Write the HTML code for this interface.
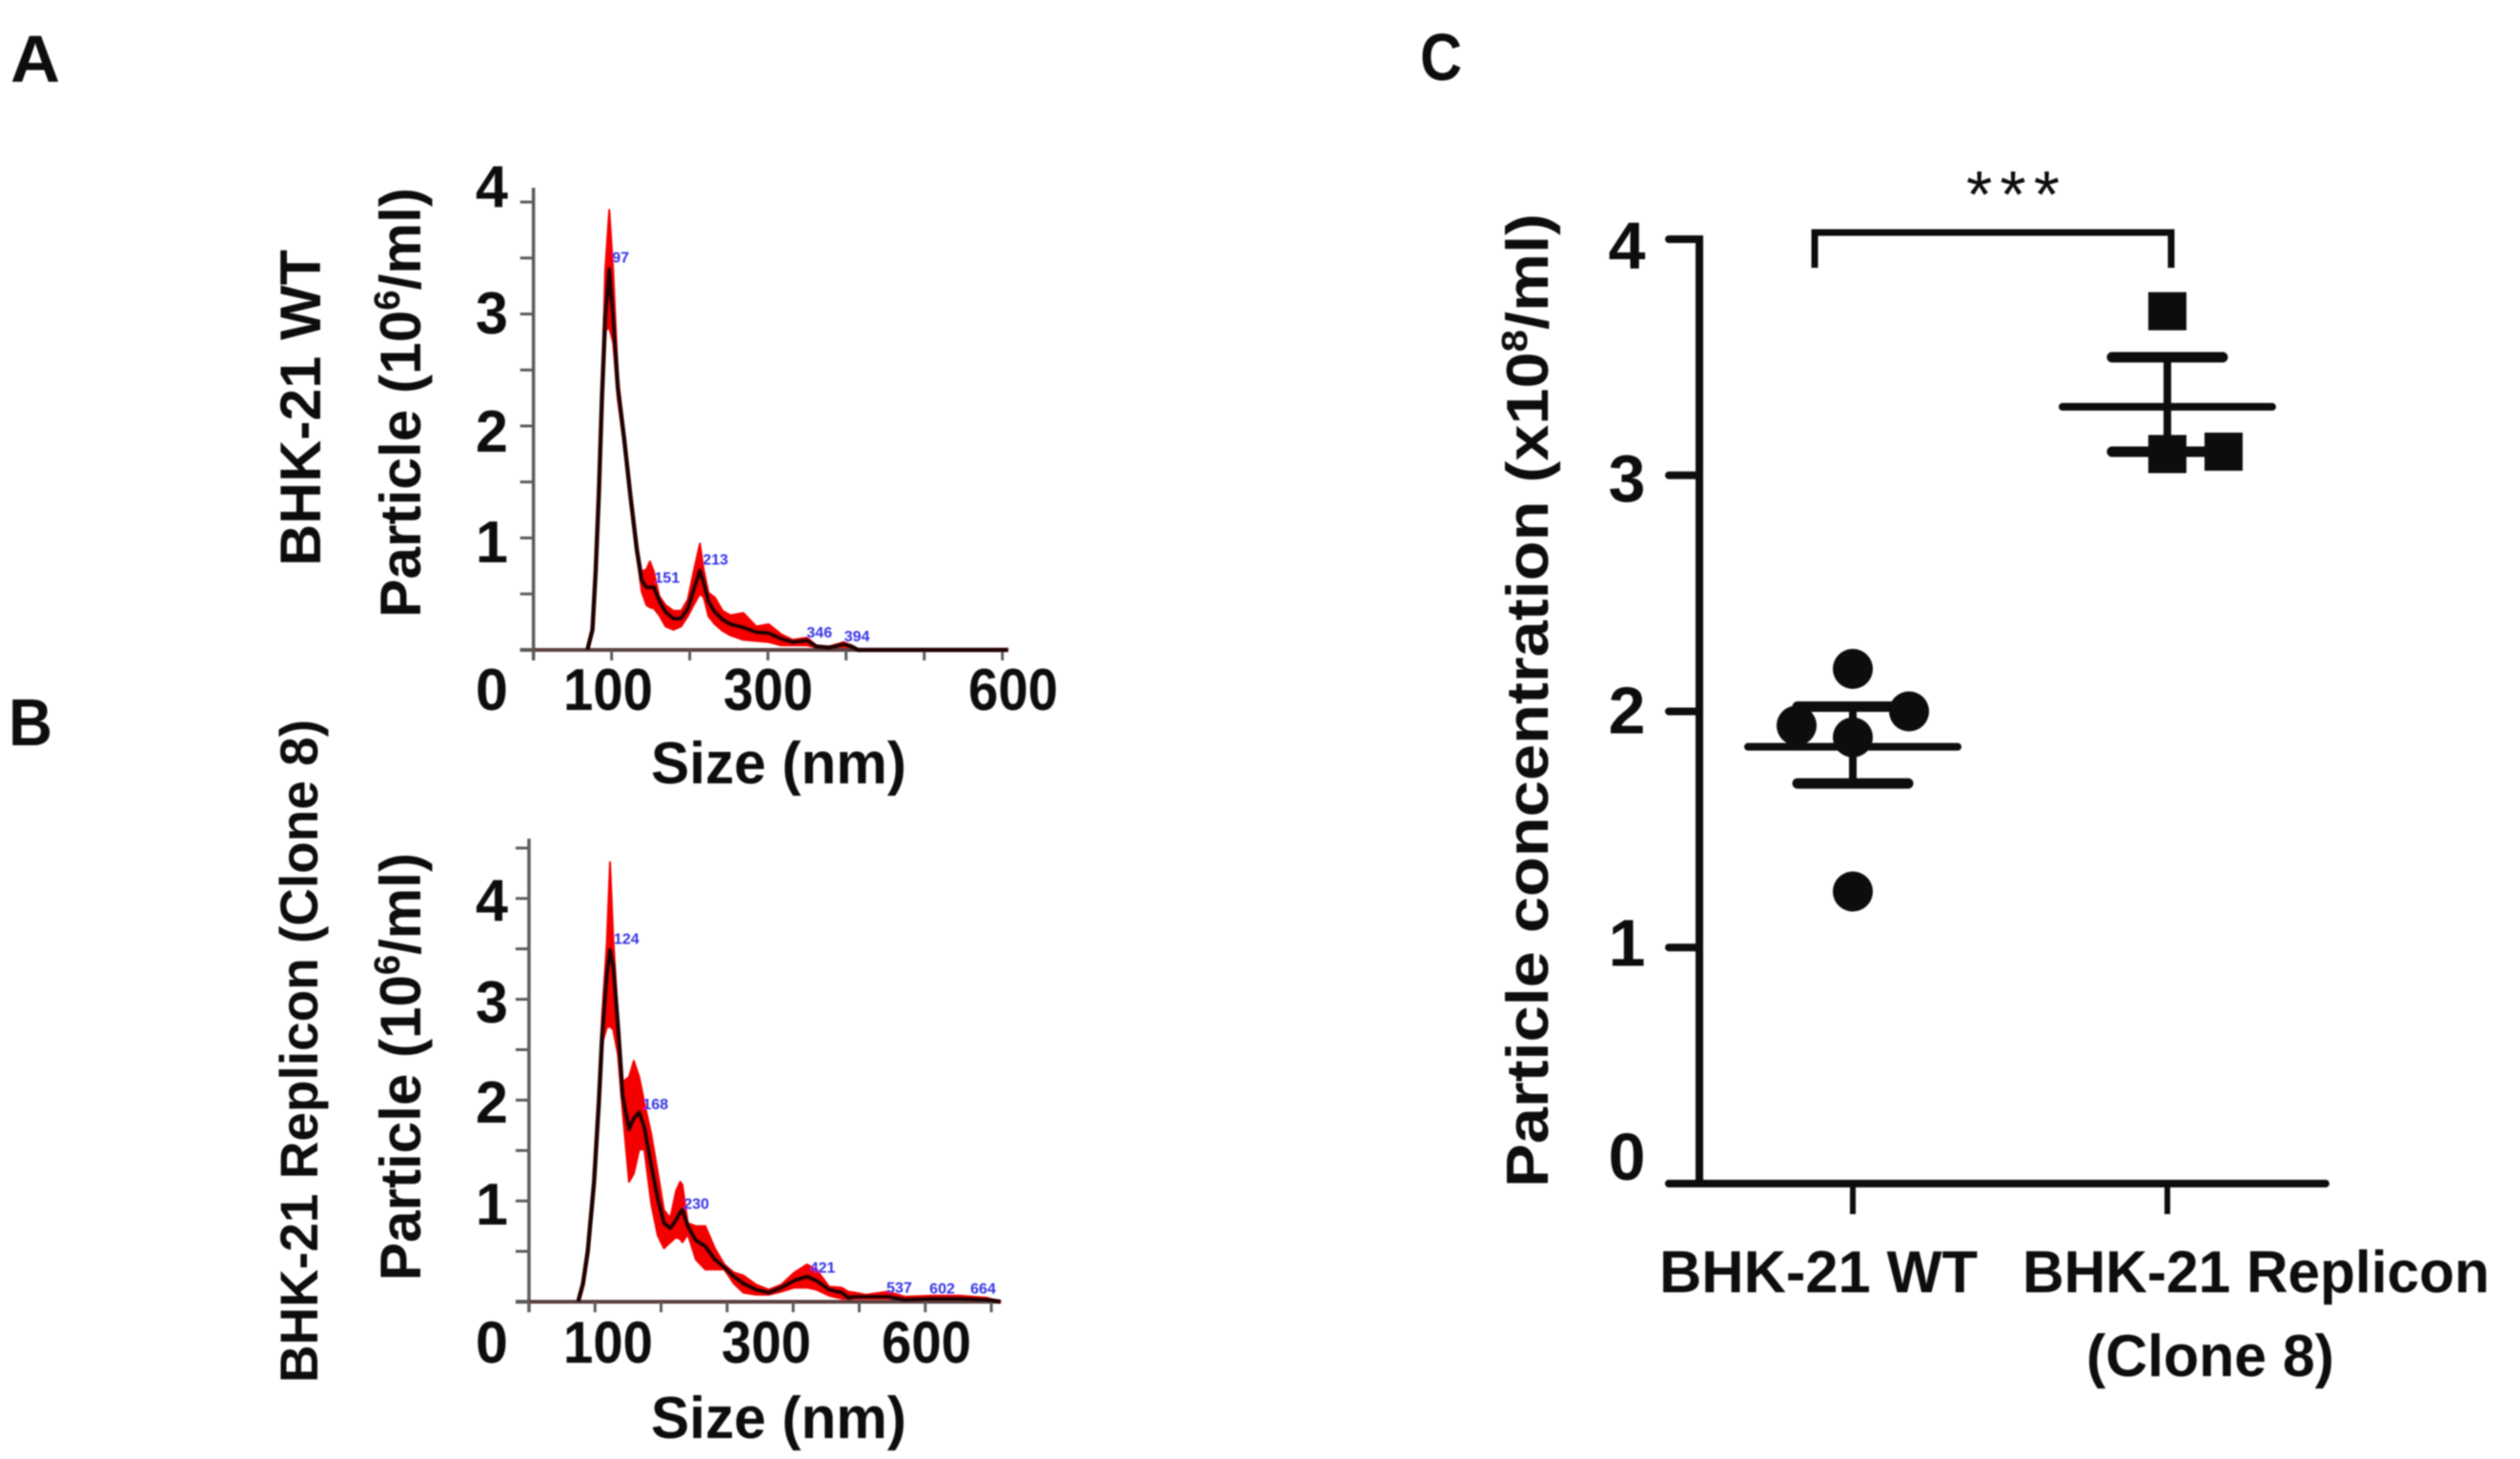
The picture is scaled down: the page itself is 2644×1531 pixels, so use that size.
<!DOCTYPE html>
<html>
<head>
<meta charset="utf-8">
<style>
html,body{margin:0;padding:0;background:#fff;}
svg{display:block;}
text{font-family:"Liberation Sans",sans-serif;fill:#0a0a0a;font-weight:bold;}
.tick{font-size:62px;text-anchor:middle;}
.peak{font-size:16px;fill:#3434e4;font-weight:bold;}
</style>
</head>
<body>
<svg id="fig" width="2644" height="1531" viewBox="0 0 2644 1531" xmlns="http://www.w3.org/2000/svg">
<defs><filter id="soft" x="-2%" y="-2%" width="104%" height="104%"><feGaussianBlur stdDeviation="0.9"/></filter></defs>
<rect width="2644" height="1531" fill="#fff"/>
<g id="root" filter="url(#soft)">
  <text x="11" y="86" font-size="70" textLength="52" lengthAdjust="spacingAndGlyphs">A</text>
  <text x="9" y="782" font-size="70" textLength="46" lengthAdjust="spacingAndGlyphs">B</text>
  <text x="1490" y="84" font-size="70" textLength="44" lengthAdjust="spacingAndGlyphs">C</text>

  <g id="panelA">
    <text transform="translate(336,594) rotate(-90)" font-size="60" textLength="332" lengthAdjust="spacingAndGlyphs">BHK-21 WT</text>
    <text transform="translate(441,648) rotate(-90)" font-size="60" textLength="451" lengthAdjust="spacingAndGlyphs">Particle (10<tspan font-size="38" dy="-22">6</tspan><tspan dy="22">/ml)</tspan></text>
    <text class="tick" x="516" y="217" textLength="34" lengthAdjust="spacingAndGlyphs">4</text>
    <text class="tick" x="516" y="350" textLength="34" lengthAdjust="spacingAndGlyphs">3</text>
    <text class="tick" x="516" y="474" textLength="34" lengthAdjust="spacingAndGlyphs">2</text>
    <text class="tick" x="516" y="590" textLength="34" lengthAdjust="spacingAndGlyphs">1</text>
    <text class="tick" x="516" y="745" textLength="34" lengthAdjust="spacingAndGlyphs">0</text>
    <text class="tick" x="638" y="745" textLength="94" lengthAdjust="spacingAndGlyphs">100</text>
    <text class="tick" x="806" y="745" textLength="94" lengthAdjust="spacingAndGlyphs">300</text>
    <text class="tick" x="1063" y="745" textLength="94" lengthAdjust="spacingAndGlyphs">600</text>
    <text class="tick" x="817" y="822" textLength="268" lengthAdjust="spacingAndGlyphs">Size (nm)</text>
  </g>

  <g id="panelB">
    <text transform="translate(333,1451) rotate(-90)" font-size="56" textLength="696" lengthAdjust="spacingAndGlyphs">BHK-21 Replicon (Clone 8)</text>
    <text transform="translate(441,1344) rotate(-90)" font-size="60" textLength="449" lengthAdjust="spacingAndGlyphs">Particle (10<tspan font-size="38" dy="-22">6</tspan><tspan dy="22">/ml)</tspan></text>
    <text class="tick" x="516" y="966" textLength="34" lengthAdjust="spacingAndGlyphs">4</text>
    <text class="tick" x="516" y="1073" textLength="34" lengthAdjust="spacingAndGlyphs">3</text>
    <text class="tick" x="516" y="1178" textLength="34" lengthAdjust="spacingAndGlyphs">2</text>
    <text class="tick" x="516" y="1285" textLength="34" lengthAdjust="spacingAndGlyphs">1</text>
    <text class="tick" x="516" y="1430" textLength="34" lengthAdjust="spacingAndGlyphs">0</text>
    <text class="tick" x="638" y="1430" textLength="94" lengthAdjust="spacingAndGlyphs">100</text>
    <text class="tick" x="804" y="1430" textLength="94" lengthAdjust="spacingAndGlyphs">300</text>
    <text class="tick" x="972" y="1430" textLength="94" lengthAdjust="spacingAndGlyphs">600</text>
    <text class="tick" x="817" y="1509" textLength="268" lengthAdjust="spacingAndGlyphs">Size (nm)</text>
  </g>

  <g id="panelC">
    <text transform="translate(1624,1246) rotate(-90)" font-size="62" textLength="1022" lengthAdjust="spacingAndGlyphs">Particle concentration (x10<tspan font-size="38" dy="-22">8</tspan><tspan dy="22">/ml)</tspan></text>
    <text x="1741" y="1356" font-size="62" textLength="334" lengthAdjust="spacingAndGlyphs">BHK-21 WT</text>
    <text x="2122" y="1356" font-size="62" textLength="490" lengthAdjust="spacingAndGlyphs">BHK-21 Replicon</text>
    <text x="2189" y="1444" font-size="62" textLength="260" lengthAdjust="spacingAndGlyphs">(Clone 8)</text>
    <text x="2063" y="228" font-size="70" style="font-weight:normal" textLength="98">***</text>
    <path d="M1904 281V244H2278V281" fill="none" stroke="#0a0a0a" stroke-width="7"/>
  </g>
</g>
</svg>
<script>
// Panel A: nanoparticle size distribution, BHK-21 WT
const sizesA = [69,75.5,79.6,83.7,87.7,91.8,97,102,108,116,124,132.4,138.5,144.6,149,154,161,169,179,189,197.5,205.6,213,217.8,224,232,242,252,268.6,285,301,317,331.6,350,362,378,397,407,415,607];
const meanA  = [0,0.18,0.7,1.4,2.26,2.96,3.4,2.96,2.34,1.89,1.38,0.89,0.62,0.56,0.56,0.56,0.44,0.34,0.28,0.28,0.37,0.55,0.71,0.6,0.43,0.34,0.27,0.23,0.2,0.16,0.15,0.1,0.07,0.085,0.03,0.02,0.05,0.03,0,0];
const upperA = [0,0.2,0.72,1.46,2.34,3.39,3.93,3.39,2.45,1.94,1.43,0.95,0.7,0.72,0.79,0.7,0.48,0.4,0.35,0.35,0.45,0.72,0.95,0.72,0.51,0.47,0.35,0.31,0.33,0.21,0.23,0.14,0.09,0.11,0.04,0.03,0.07,0.04,0,0.01];
const lowerA = [0,0.16,0.66,1.34,2.2,2.85,2.88,2.74,2.23,1.83,1.32,0.84,0.52,0.4,0.38,0.37,0.31,0.21,0.18,0.21,0.3,0.41,0.5,0.47,0.3,0.23,0.17,0.13,0.09,0.08,0.07,0.04,0.04,0.04,0.02,0.01,0.02,0.01,0,0];
const yTicksA = [0,0.5,1,1.5,2,2.5,3,3.5,4];
const xTicksA = [0,100,200,300,400,500,600];
const peakSizesA = [97,151,213,346,394];
const peakHeightsA = [3.46,0.6,0.76,0.11,0.075];

// Panel B: nanoparticle size distribution, BHK-21 Replicon (Clone 8)
const sizesB = [74.5,81.8,89,98.6,105.8,110.6,117.8,122.7,127.5,134.7,141.9,151.5,158.7,166.9,174.6,185.2,194.8,204.4,214,222.7,229,232.3,240.5,252.5,267,281.4,295.8,310.2,324.7,344,363,382,401.6,421,435,454.5,473.8,483.4,494,510,544,569,610,652,693,714];
const meanB  = [0,0.18,0.5,1.19,1.98,2.61,3.24,3.49,3.33,2.73,2.04,1.71,1.82,1.88,1.73,1.35,1.03,0.78,0.73,0.81,0.89,0.91,0.75,0.61,0.55,0.42,0.34,0.25,0.18,0.12,0.09,0.14,0.21,0.25,0.21,0.12,0.09,0.04,0.05,0.05,0.05,0.02,0.03,0.03,0.02,0];
const upperB = [0,0.2,0.53,1.23,2.05,2.83,3.55,4.36,3.62,2.83,2.18,2.23,2.39,2.23,1.98,1.66,1.29,0.91,0.83,1.1,1.19,1.16,0.78,0.75,0.75,0.53,0.37,0.29,0.26,0.17,0.12,0.17,0.29,0.37,0.32,0.15,0.14,0.1,0.09,0.07,0.1,0.05,0.06,0.06,0.04,0];
const lowerB = [0,0.16,0.47,1.15,1.92,2.55,2.72,2.73,2.7,2.45,1.88,1.19,1.27,1.51,1.51,0.97,0.66,0.53,0.59,0.64,0.62,0.59,0.67,0.42,0.32,0.32,0.32,0.18,0.09,0.07,0.07,0.1,0.14,0.14,0.12,0.06,0.03,0.01,0.03,0.03,0.03,0.01,0.01,0.01,0.01,0];
const yTicksB = [0,0.5,1,1.5,2,2.5,3,3.5,4,4.5];
const xTicksB = [0,100,200,300,400,500,600,700];
const peakSizesB = [124,168,230,421,537,602,664];
const peakHeightsB = [3.55,1.91,0.92,0.29,0.09,0.08,0.08];

// Panel C: particle concentration
const categoriesC = ['BHK-21 WT','BHK-21 Replicon (Clone 8)'];
const valuesWT = [2.18,1.94,2.0,1.89,1.237];
const swarmWT = [0,-1,1,0,0];
const valuesRep = [3.695,3.09,3.1];
const swarmRep = [0,0,1];
const meansC = [1.85,3.29];
const semUpperC = [2.02,3.5];
const semLowerC = [1.695,3.1];
const yTicksC = [0,1,2,3,4];
const yLabelsC = ['0','1','2','3','4'];

const NS = 'http://www.w3.org/2000/svg';
function make(tag, parent, props){
  const el = document.createElementNS(NS, tag);
  for (const k in props) el.setAttribute(k, props[k]);
  parent.appendChild(el);
  return el;
}

// Axis functions
const xA = s => 559.7 + s * 0.82;
const yA = v => 682 - v * 117.5;
const xB = s => 555 + s * 0.693;
const yB = v => 1366 - v * 105.8;
const yC = v => 1242 - v * 247.75;
const catC = i => 1944 + i * 330;
const SWARM_STEP = 59;

function drawDistribution(group, cfg){
  const top = cfg.sizes.map((s,i)=>cfg.x(s)+','+cfg.y(cfg.upper[i]));
  const bottom = cfg.sizes.map((s,i)=>cfg.x(s)+','+cfg.y(cfg.lower[i])).reverse();
  const band = make('polygon', group, {points: top.concat(bottom).join(' '), fill:'#f40000', stroke:'#f40000', 'stroke-width':2, 'stroke-linejoin':'round'});
  
  

  const yAxis = make('line', group, {x1:cfg.x(0), x2:cfg.x(0), y1:cfg.axisTop, y2:cfg.y(0)+11, stroke:'#5c5c5c', 'stroke-width':3.5});
  
  
  const xAxis = make('line', group, {x1:cfg.x(0)-14, x2:cfg.axisRight, y1:cfg.y(0), y2:cfg.y(0), stroke:'#5c4040', 'stroke-width':4});
  
  
  cfg.yTicks.forEach(v=>{
    const t = make('line', group, {x1:cfg.x(0)-14, x2:cfg.x(0), y1:cfg.y(v), y2:cfg.y(v), stroke:'#5c5c5c', 'stroke-width':3});
    
    
  });
  cfg.xTicks.forEach(v=>{
    const t = make('line', group, {x1:cfg.x(v), x2:cfg.x(v), y1:cfg.y(0), y2:cfg.y(0)+11, stroke:'#5c5c5c', 'stroke-width':3});
    
    
  });

  const line = make('polyline', group, {points: cfg.sizes.map((s,i)=>cfg.x(s)+','+cfg.y(cfg.mean[i])).join(' '), fill:'none', stroke:'#200404', 'stroke-width':4.5, 'stroke-linejoin':'round'});
  
  

  cfg.peakSizes.forEach((s,i)=>{
    const t = make('text', group, {x:cfg.x(s)+3, y:cfg.y(cfg.peakHeights[i]), class:'peak'});
    
    
    t.textContent = String(s);
  });
}

drawDistribution(document.getElementById('panelA'), {x:xA, y:yA, sizes:sizesA, mean:meanA, upper:upperA, lower:lowerA, yTicks:yTicksA, xTicks:xTicksA, peakSizes:peakSizesA, peakHeights:peakHeightsA, axisTop:197, axisRight:1058});
drawDistribution(document.getElementById('panelB'), {x:xB, y:yB, sizes:sizesB, mean:meanB, upper:upperB, lower:lowerB, yTicks:yTicksB, xTicks:xTicksB, peakSizes:peakSizesB, peakHeights:peakHeightsB, axisTop:880, axisRight:1050});

// Panel C
const gC = document.getElementById('panelC');
const axisXC = 1783;
const yAxisC = make('line', gC, {x1:axisXC, x2:axisXC, y1:yC(4)-4, y2:yC(0), stroke:'#0a0a0a', 'stroke-width':8});


const xAxisC = make('line', gC, {x1:1751, x2:2440, y1:yC(0), y2:yC(0), stroke:'#0a0a0a', 'stroke-width':8, 'stroke-linecap':'round'});


yTicksC.forEach((v,i)=>{
  const t = make('line', gC, {x1:1751, x2:axisXC, y1:yC(v), y2:yC(v), stroke:'#0a0a0a', 'stroke-width':8, 'stroke-linecap':'round'});
  
  
  const l = make('text', gC, {x:1707, y:yC(v) + (v === 0 ? -4 : 19 + (v - 1) * 4), 'text-anchor':'middle', 'font-size':70});
  
  
  l.textContent = yLabelsC[i];
});
categoriesC.forEach((c,i)=>{
  const t = make('line', gC, {x1:catC(i), x2:catC(i), y1:yC(0), y2:yC(0)+32, stroke:'#0a0a0a', 'stroke-width':6});
  
  
  const stem = make('line', gC, {x1:catC(i), x2:catC(i), y1:yC(semUpperC[i]), y2:yC(semLowerC[i]), stroke:'#0a0a0a', 'stroke-width':8});
  
  
  [semUpperC[i], semLowerC[i]].forEach(v=>{
    const cap = make('line', gC, {x1:catC(i)-58, x2:catC(i)+58, y1:yC(v), y2:yC(v), stroke:'#0a0a0a', 'stroke-width':11, 'stroke-linecap':'round'});
    
    
  });
  const m = make('line', gC, {x1:catC(i)-110, x2:catC(i)+110, y1:yC(meansC[i]), y2:yC(meansC[i]), stroke:'#0a0a0a', 'stroke-width':8, 'stroke-linecap':'round'});
  
  
});
valuesWT.forEach((v,i)=>{
  const c = make('circle', gC, {cx:catC(0)+swarmWT[i]*SWARM_STEP, cy:yC(v), r:21, fill:'#0a0a0a'});
  
  
});
valuesRep.forEach((v,i)=>{
  const s = make('rect', gC, {x:catC(1)+swarmRep[i]*SWARM_STEP-20, y:yC(v)-20, width:40, height:40, fill:'#0a0a0a'});
  
  
});
</script>
</body>
</html>
